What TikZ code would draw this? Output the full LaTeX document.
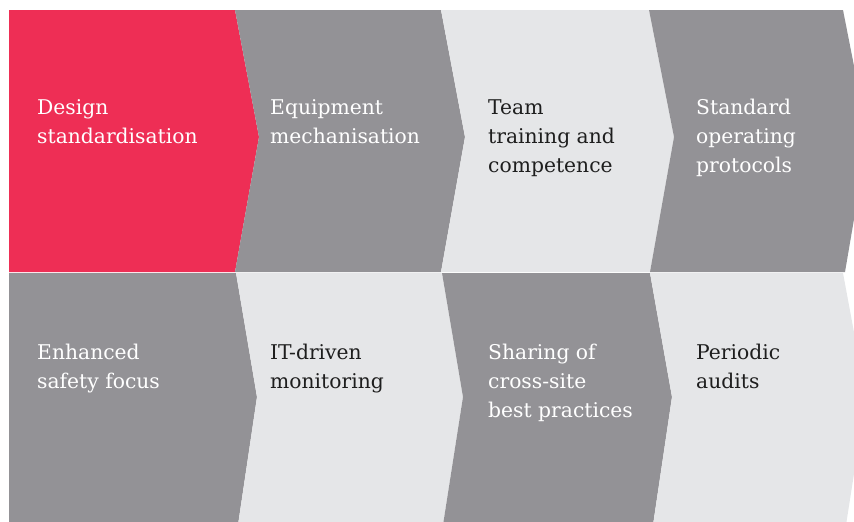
\documentclass[tikz,border=0pt]{standalone}
\usepackage{fontspec}
\setmainfont{DejaVu Serif}
\definecolor{cred}{HTML}{EE2E55}
\definecolor{cgray}{HTML}{939296}
\definecolor{clight}{HTML}{E5E6E8}
\definecolor{ctext}{HTML}{1E1E1E}
\begin{document}
\begin{tikzpicture}[x=1pt,y=-1pt,
  lbl/.style={anchor=base west,inner sep=0pt,align=left,font=\fontsize{20.3}{29}\selectfont},
  onDark/.style={lbl,text=white},
  onLight/.style={lbl,text=ctext}]
\useasboundingbox (0,0) rectangle (854,522);
\begin{scope}
\clip (0,0) rectangle (854,522);
% top row: y 10..272, tip at 137
\fill[cred]   (9,10) -- (235,10) -- (259,137) -- (235,272) -- (9,272) -- cycle;
\fill[cgray]  (235,10) -- (441,10) -- (465,137) -- (441,272) -- (235,272) -- (259,137) -- cycle;
\fill[clight] (441,10) -- (649,10) -- (674,137) -- (650,272) -- (441,272) -- (465,137) -- cycle;
\fill[cgray]  (649,10) -- (843,10) -- (868,137) -- (845,272) -- (650,272) -- (674,137) -- cycle;
% bottom row: y 273..525, tip at 397
\fill[cgray]  (9,273) -- (236,273) -- (257,397) -- (238,525) -- (9,525) -- cycle;
\fill[clight] (236,273) -- (442,273) -- (463,397) -- (443,525) -- (238,525) -- (257,397) -- cycle;
\fill[cgray]  (442,273) -- (650,273) -- (672,397) -- (653,525) -- (443,525) -- (463,397) -- cycle;
\fill[clight] (650,273) -- (843,273) -- (866,397) -- (846,525) -- (653,525) -- (672,397) -- cycle;
\end{scope}
% labels (base anchor = last line's baseline)
\node[onDark]  (t1) at (37,143)  {Design\\standardisation};
\node[onDark]  (t2) at (270,143) {Equipment\\mechanisation};
\node[onLight] (t3) at (488,172) {Team\\training and\\competence};
\node[onDark]  (t4) at (696,172) {Standard\\operating\\protocols};
\node[onDark]  (b1) at (37,388.5)  {Enhanced\\safety focus};
\node[onLight] (b2) at (270,388.5) {IT-driven\\monitoring};
\node[onDark]  (b3) at (488,417) {Sharing of\\cross-site\\best practices};
\node[onLight] (b4) at (696,388.5) {Periodic\\audits};
\end{tikzpicture}
\end{document}
